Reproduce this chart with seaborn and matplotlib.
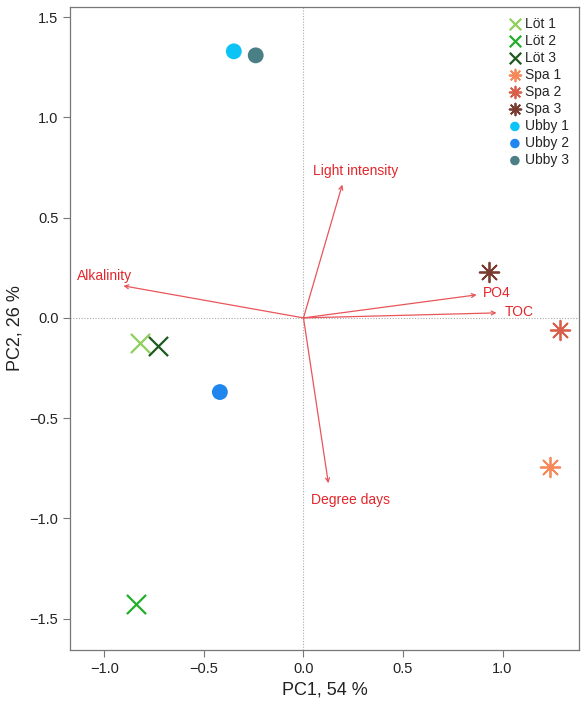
import numpy as np
import pandas as pd
import matplotlib
matplotlib.use("Agg")
import matplotlib.pyplot as plt
import seaborn as sns

# sample scores
samples = ["Löt 1", "Löt 2", "Löt 3", "Spa 1", "Spa 2", "Spa 3", "Ubby 1", "Ubby 2", "Ubby 3"]
pc1 = [-0.82, -0.84, -0.73, 1.24, 1.29, 0.93, -0.35, -0.42, -0.24]
pc2 = [-0.125, -1.43, -0.14, -0.745, -0.06, 0.23, 1.33, -0.37, 1.31]
colours = ["#8fcf5c", "#23ad2b", "#1d5a1f", "#f5895a", "#d8604a", "#7a3b30",
           "#0bc3f5", "#1f86ee", "#4b7f86"]
markers = ["x", "x", "x", (8, 2, 0), (8, 2, 0), (8, 2, 0), "o", "o", "o"]

# environmental vectors
variables = ["Light intensity", "Alkalinity", "PO4", "TOC", "Degree days"]
vec_x = [0.195, -0.905, 0.87, 0.97, 0.125]
vec_y = [0.665, 0.16, 0.115, 0.025, -0.825]
lab_x = [0.05, -1.14, 0.90, 1.01, 0.04]
lab_y = [0.735, 0.21, 0.125, 0.03, -0.91]

df = pd.DataFrame({"sample": samples, "PC1": pc1, "PC2": pc2})

sns.set_style("ticks")
plt.rcParams["font.family"] = ["Liberation Sans", "DejaVu Sans"]

fig, ax = plt.subplots(figsize=(5.85, 7.04), dpi=100)
fig.subplots_adjust(left=0.12, right=0.99, bottom=0.077, top=0.99)

ax.axhline(0, color="#aaaaaa", lw=0.8, ls=(0, (1, 1.5)), zorder=0)
ax.axvline(0, color="#aaaaaa", lw=0.8, ls=(0, (1, 1.5)), zorder=0)

for i, row in df.iterrows():
    m = markers[i]
    if m == "o":
        sns.scatterplot(x=[row.PC1], y=[row.PC2], marker="o", color=colours[i],
                        s=130, edgecolor="none", label=row["sample"], ax=ax, zorder=3)
    elif m == "x":
        sns.scatterplot(x=[row.PC1], y=[row.PC2], marker=m, color=colours[i],
                        s=190, linewidth=1.6, label=row["sample"], ax=ax, zorder=3)
    else:
        sns.scatterplot(x=[row.PC1], y=[row.PC2], marker=m, color=colours[i],
                        s=200, linewidth=1.3, label=row["sample"], ax=ax, zorder=3)

red = "#e3262b"
for v, x, y, tx, ty in zip(variables, vec_x, vec_y, lab_x, lab_y):
    ax.annotate("", xy=(x, y), xytext=(0, 0),
                arrowprops=dict(arrowstyle="->", color="#e8555a", lw=0.9,
                                shrinkA=0, shrinkB=0, mutation_scale=7))
    ax.text(tx, ty, v, color=red, fontsize=10, ha="left", va="center")

ax.set_xlim(-1.172, 1.385)
ax.set_ylim(-1.656, 1.551)
ax.set_xticks([-1.0, -0.5, 0.0, 0.5, 1.0])
ax.set_yticks([-1.5, -1.0, -0.5, 0.0, 0.5, 1.0, 1.5])
ax.set_xticklabels(["\u22121.0", "\u22120.5", "0.0", "0.5", "1.0"])
ax.set_yticklabels(["\u22121.5", "\u22121.0", "\u22120.5", "0.0", "0.5", "1.0", "1.5"])
ax.tick_params(direction="out", length=5, width=0.8, color="#777777",
               labelsize=10.5, labelcolor="#222222")
for s in ax.spines.values():
    s.set_visible(True)
    s.set_color("#777777")
    s.set_linewidth(0.9)

ax.set_xlabel("PC1, 54 %", fontsize=13, color="#222222")
ax.set_ylabel("PC2, 26 %", fontsize=13, color="#222222")

leg = ax.legend(loc="upper right", frameon=False, fontsize=10, handletextpad=0.15,
                labelspacing=0.22, markerscale=0.6, borderaxespad=0.3, handlelength=1.2)

fig.savefig("out.png", dpi=100)
